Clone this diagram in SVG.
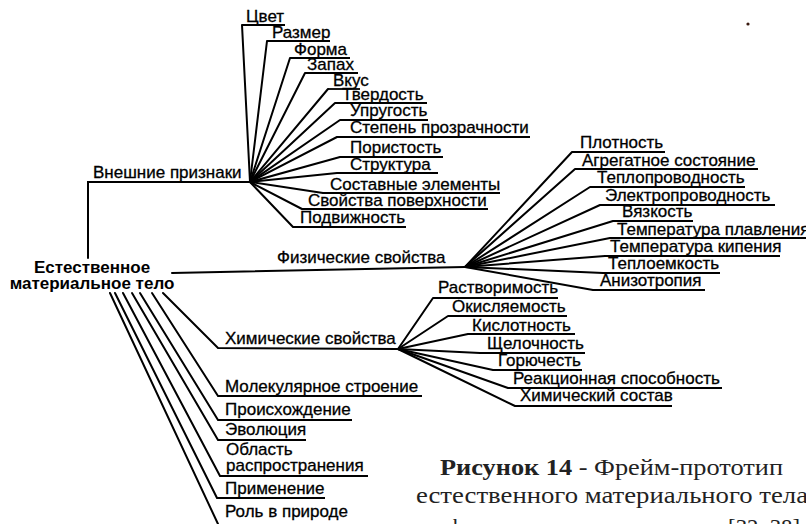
<svg xmlns="http://www.w3.org/2000/svg" width="806" height="524" viewBox="0 0 806 524">
<style>
.t{font-family:"Liberation Sans",Arial,sans-serif;font-size:17px;fill:#000;stroke:#000;stroke-width:0.3}
.r{font-family:"Liberation Sans",Arial,sans-serif;font-size:17px;font-weight:bold;fill:#000;text-anchor:middle}
.c{font-family:"Liberation Serif","Times New Roman",serif;font-size:23px;fill:#222}
.u{stroke:#000;stroke-width:1.8;fill:none}
#connectors line,#connectors polyline{stroke:#000;stroke-width:2;fill:none;stroke-linecap:round}
</style>
<rect width="806" height="524" fill="#fff"/>
<circle cx="748" cy="24" r="1.6" fill="#3a1a10"/>
<g id="connectors">
<polyline points="88,258 88,182 250,182"/>
<line x1="250" y1="182" x2="242" y2="25"/>
<line x1="250" y1="182" x2="267" y2="41"/>
<line x1="250" y1="182" x2="290" y2="58"/>
<line x1="250" y1="182" x2="305" y2="73"/>
<line x1="250" y1="182" x2="328" y2="89"/>
<line x1="250" y1="182" x2="335" y2="103"/>
<line x1="250" y1="182" x2="340" y2="120"/>
<line x1="250" y1="182" x2="337" y2="137"/>
<line x1="250" y1="182" x2="340" y2="157"/>
<line x1="250" y1="182" x2="337" y2="173"/>
<line x1="250" y1="182" x2="323" y2="193"/>
<line x1="250" y1="182" x2="302" y2="209"/>
<line x1="250" y1="182" x2="293" y2="227"/>
<line x1="172" y1="273" x2="465" y2="267"/>
<line x1="465" y1="267" x2="572" y2="152"/>
<line x1="465" y1="267" x2="575" y2="169"/>
<line x1="465" y1="267" x2="590" y2="187"/>
<line x1="465" y1="267" x2="600" y2="205"/>
<line x1="465" y1="267" x2="613" y2="221"/>
<line x1="465" y1="267" x2="610" y2="238"/>
<line x1="465" y1="267" x2="605" y2="256"/>
<line x1="465" y1="267" x2="603" y2="273"/>
<line x1="465" y1="267" x2="593" y2="290"/>
<polyline points="163,293 218,348 398,349"/>
<line x1="398" y1="349" x2="433" y2="298"/>
<line x1="398" y1="349" x2="448" y2="316"/>
<line x1="398" y1="349" x2="468" y2="334"/>
<line x1="398" y1="349" x2="480" y2="353"/>
<line x1="398" y1="349" x2="493" y2="370"/>
<line x1="398" y1="349" x2="508" y2="388"/>
<line x1="398" y1="349" x2="515" y2="406"/>
<line x1="152" y1="293" x2="218" y2="396"/>
<line x1="140" y1="293" x2="218" y2="420"/>
<line x1="132" y1="293" x2="218" y2="440"/>
<line x1="123" y1="293" x2="220" y2="476"/>
<line x1="115" y1="293" x2="217" y2="498"/>
<line x1="110" y1="293" x2="218" y2="524"/>
</g>
<g id="root"><text class="r" x="92" y="273">Естественное</text><text class="r" x="92" y="289">материальное тело</text></g>
<g id="vneshnie"><text class="t" x="93" y="178">Внешние признаки</text></g>
<g id="cvet"><text class="t" x="246" y="22">Цвет</text><line class="u" x1="242" y1="25" x2="285" y2="25"/></g>
<g id="razmer"><text class="t" x="272" y="38">Размер</text><line class="u" x1="267" y1="41" x2="330" y2="41"/></g>
<g id="forma"><text class="t" x="294" y="55">Форма</text><line class="u" x1="290" y1="58" x2="350" y2="58"/></g>
<g id="zapah"><text class="t" x="307" y="70">Запах</text><line class="u" x1="305" y1="73" x2="358" y2="73"/></g>
<g id="vkus"><text class="t" x="333" y="86">Вкус</text><line class="u" x1="328" y1="89" x2="360" y2="89"/></g>
<g id="tverdost"><text class="t" x="342" y="100">Твердость</text><line class="u" x1="335" y1="103" x2="427" y2="103"/></g>
<g id="uprugost"><text class="t" x="350" y="116">Упругость</text><line class="u" x1="340" y1="120" x2="428" y2="120"/></g>
<g id="prozrachnost"><text class="t" x="350" y="133">Степень прозрачности</text><line class="u" x1="337" y1="137" x2="530" y2="137"/></g>
<g id="poristost"><text class="t" x="350" y="153">Пористость</text><line class="u" x1="340" y1="157" x2="443" y2="157"/></g>
<g id="struktura"><text class="t" x="350" y="170">Структура</text><line class="u" x1="337" y1="173" x2="438" y2="173"/></g>
<g id="sostavnye"><text class="t" x="330" y="190">Составные элементы</text><line class="u" x1="323" y1="193" x2="500" y2="193"/></g>
<g id="poverhnost"><text class="t" x="308" y="206">Свойства поверхности</text><line class="u" x1="302" y1="209" x2="488" y2="209"/></g>
<g id="podvizhnost"><text class="t" x="300" y="223">Подвижность</text><line class="u" x1="293" y1="227" x2="406" y2="227"/></g>
<g id="fizicheskie"><text class="t" x="277" y="263">Физические свойства</text></g>
<g id="plotnost"><text class="t" x="580" y="148">Плотность</text><line class="u" x1="572" y1="152" x2="665" y2="152"/></g>
<g id="agregatnoe"><text class="t" x="582" y="166">Агрегатное состояние</text><line class="u" x1="575" y1="169" x2="758" y2="169"/></g>
<g id="teploprovodnost"><text class="t" x="597" y="183">Теплопроводность</text><line class="u" x1="590" y1="187" x2="745" y2="187"/></g>
<g id="elektroprovodnost"><text class="t" x="605" y="201">Электропроводность</text><line class="u" x1="600" y1="205" x2="775" y2="205"/></g>
<g id="vyazkost"><text class="t" x="622" y="217">Вязкость</text><line class="u" x1="613" y1="221" x2="693" y2="221"/></g>
<g id="plavlenie"><text class="t" x="617" y="235">Температура плавления</text><line class="u" x1="610" y1="238" x2="806" y2="238"/></g>
<g id="kipenie"><text class="t" x="610" y="252">Температура кипения</text><line class="u" x1="605" y1="256" x2="780" y2="256"/></g>
<g id="teploemkost"><text class="t" x="608" y="269">Теплоемкость</text><line class="u" x1="603" y1="273" x2="720" y2="273"/></g>
<g id="anizotropiya"><text class="t" x="600" y="286">Анизотропия</text><line class="u" x1="593" y1="290" x2="705" y2="290"/></g>
<g id="himicheskie"><text class="t" x="225" y="344">Химические свойства</text></g>
<g id="rastvorimost"><text class="t" x="438" y="293">Растворимость</text><line class="u" x1="433" y1="298" x2="558" y2="298"/></g>
<g id="okislyaemost"><text class="t" x="452" y="312">Окисляемость</text><line class="u" x1="448" y1="316" x2="567" y2="316"/></g>
<g id="kislotnost"><text class="t" x="472" y="331">Кислотность</text><line class="u" x1="468" y1="334" x2="575" y2="334"/></g>
<g id="shchelochnost"><text class="t" x="487" y="349">Щелочность</text><line class="u" x1="480" y1="353" x2="585" y2="353"/></g>
<g id="goryuchest"><text class="t" x="498" y="366">Горючесть</text><line class="u" x1="493" y1="370" x2="582" y2="370"/></g>
<g id="reakcionnaya"><text class="t" x="513" y="384">Реакционная способность</text><line class="u" x1="508" y1="388" x2="722" y2="388"/></g>
<g id="sostav"><text class="t" x="520" y="401">Химический состав</text><line class="u" x1="515" y1="406" x2="672" y2="406"/></g>
<g id="molekulyarnoe"><text class="t" x="225" y="392">Молекулярное строение</text><line class="u" x1="218" y1="396" x2="422" y2="396"/></g>
<g id="proishozhdenie"><text class="t" x="225" y="415">Происхождение</text><line class="u" x1="218" y1="420" x2="352" y2="420"/></g>
<g id="evolyuciya"><text class="t" x="225" y="435">Эволюция</text><line class="u" x1="218" y1="440" x2="306" y2="440"/></g>
<g id="oblast"><text class="t" x="226" y="455">Область</text><text class="t" x="226" y="471">распространения</text><line class="u" x1="220" y1="476" x2="368" y2="476"/></g>
<g id="primenenie"><text class="t" x="225" y="494">Применение</text><line class="u" x1="217" y1="498" x2="325" y2="498"/></g>
<g id="rol"><text class="t" x="225" y="517">Роль в природе</text></g>
<g id="caption">
<text class="c" x="440" y="475" textLength="343" lengthAdjust="spacingAndGlyphs"><tspan font-weight="bold">Рисунок 14</tspan> - Фрейм-прототип</text>
<text class="c" x="416" y="503" textLength="392" lengthAdjust="spacingAndGlyphs">естественного материального тела</text>
<text class="c" x="448" y="535" textLength="352" lengthAdjust="spacingAndGlyphs">формального представления [32, 38]</text>
</g>
</svg>
